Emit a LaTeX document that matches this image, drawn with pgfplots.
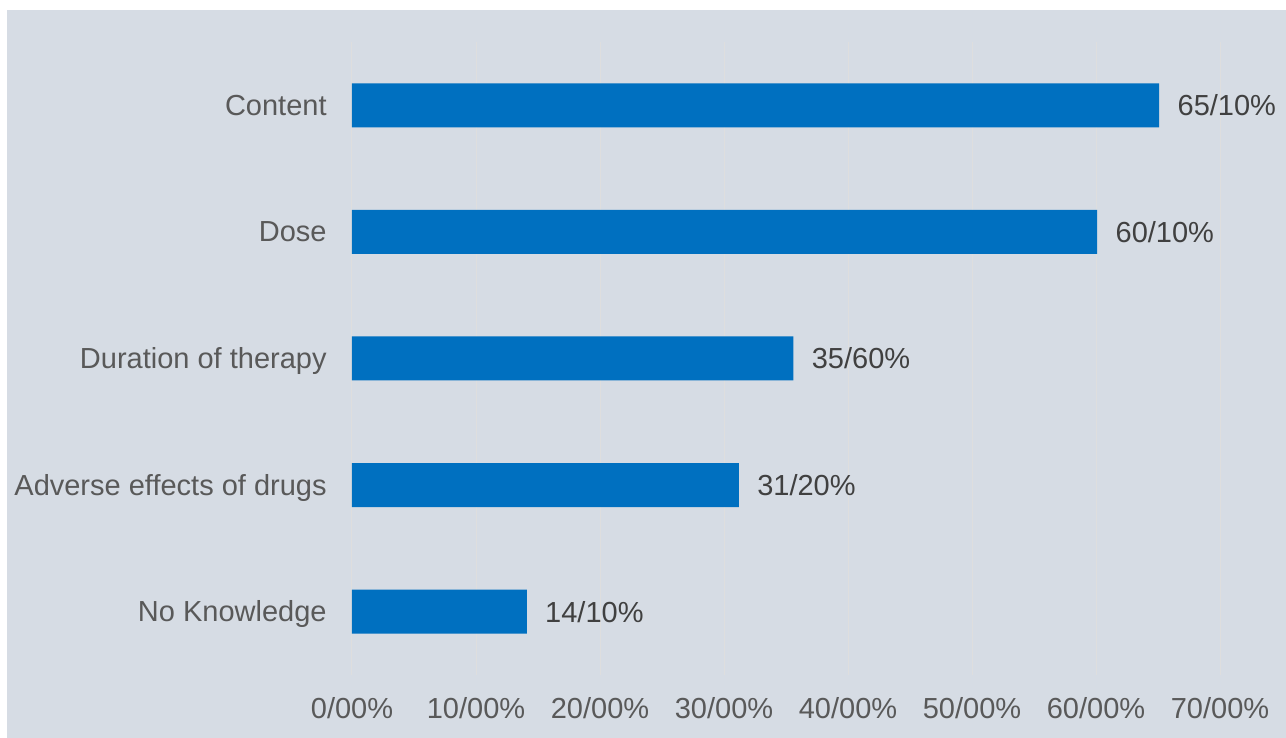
\documentclass[border=0pt]{standalone}
\usepackage{pgfplots}
\pgfplotsset{compat=1.18}
\usepackage{fontspec}
\setmainfont{Liberation Sans}
\definecolor{bg}{HTML}{D6DCE4}
\definecolor{barblue}{HTML}{0070C0}
\definecolor{lab}{HTML}{595959}
\definecolor{val}{HTML}{404040}
\definecolor{gridc}{HTML}{DEDEDE}
\begin{document}
\begin{tikzpicture}[x=1pt,y=1pt]
\useasboundingbox (0,0) rectangle (643,369);
\fill[bg] (3.5,0) rectangle (643,364);
\begin{axis}[
  at={(176pt,31.5pt)}, anchor=south west,
  scale only axis, width=434pt, height=316.5pt,
  xmin=0, xmax=70, ymin=0.5, ymax=5.5,
  xbar, bar width=22pt,
  axis line style={draw=none},
  major tick length=0pt,
  xtick={0,10,20,30,40,50,60,70},
  xticklabels={0/00\%,10/00\%,20/00\%,30/00\%,40/00\%,50/00\%,60/00\%,70/00\%},
  ytick={1,2,3,4,5},
  yticklabels={No Knowledge,Adverse effects of drugs,Duration of therapy,Dose,Content},
  xmajorgrids,
  major grid style={gridc, line width=0.5pt},
  ticklabel style={font=\fontsize{14.5}{17}\selectfont, text=lab, inner sep=0pt},
  xticklabel style={anchor=base, yshift=-22pt},
  yticklabel style={anchor=base east, xshift=-12.5pt, yshift=-5pt},
  nodes near coords,
  point meta=explicit symbolic,
  nodes near coords style={anchor=west, inner sep=0pt, xshift=9pt, font=\fontsize{14.5}{17}\selectfont, text=val},
  clip=false,
]
\addplot[fill=barblue, draw=none] coordinates {
  (14.1,1) [14/10\%]
  (31.2,2) [31/20\%]
  (35.6,3) [35/60\%]
  (60.1,4) [60/10\%]
  (65.1,5) [65/10\%]
};
\end{axis}
\end{tikzpicture}
\end{document}
